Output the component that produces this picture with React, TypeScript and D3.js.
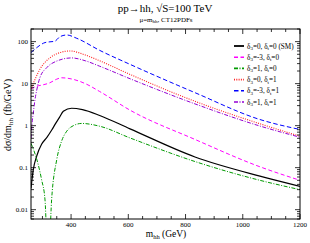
import React from 'react';
import * as d3 from 'd3';

// m_hh (GeV), dsigma/dm_hh (fb/GeV)
const smPts: [number, number][] = [
  [260, 0.032], [268, 0.09], [280, 0.19], [297, 0.36], [315, 0.52], [333, 0.8],
  [344, 1.07], [360, 1.6], [373, 2.2], [402, 2.6], [440, 2.4], [500, 1.75],
  [606, 0.84], [833, 0.18], [1060, 0.063], [1200, 0.036],
];
const m3Pts: [number, number][] = [
  [260, 7.5], [280, 8.7], [300, 9.3], [326, 10.5], [350, 12.8], [367, 13.8],
  [400, 13], [450, 10], [500, 6.5], [606, 2.34], [833, 0.47],
  [1060, 0.105], [1200, 0.05],
];
const p1Pts: [number, number][] = [
  [260, 0.38], [285, 0.12], [297, 0.052], [309, 0.017], [320, 0.0004], [332, 0.017],
  [350, 0.156], [367, 0.43], [385, 0.74], [408, 1.0], [437, 1.13], [500, 0.97],
  [606, 0.51], [833, 0.14], [1060, 0.05], [1200, 0.03],
];
const t1Pts: [number, number][] = [
  [260, 7.6], [274, 12.6], [291, 22], [326, 41], [361, 55], [396, 60], [450, 48],
  [500, 35], [606, 16.6], [833, 3.8], [1060, 1.11], [1200, 0.56],
];
const m3t1Pts: [number, number][] = [
  [260, 55], [280, 72], [309, 95], [344, 103], [361, 131], [385, 144], [420, 120],
  [500, 62], [606, 28.8], [833, 6.1], [1060, 1.4], [1200, 0.81],
];
const p1t1Pts: [number, number][] = [
  [260, 0.5], [263, 1], [268, 2], [274, 4.2], [280, 7], [291, 13.8], [315, 24],
  [350, 34.5], [402, 41], [450, 35], [500, 26], [606, 13.1],
  [833, 3.3], [1060, 0.98], [1200, 0.53],
];

const delta3 = ['0', '-3', '1', '0', '-3', '1'];
const deltaT = ['0', '0', '0', '1', '1', '1'];
const xTickVals = [400, 600, 800, 1000, 1200];
const yTickVals = [0.01, 0.1, 1, 10, 100];

const series = [
  { pts: smPts, color: '#000000', dash: '', w: 1.2, note: ' (SM)' },
  { pts: m3Pts, color: '#ff00ff', dash: '4,2.5', w: 1, note: '' },
  { pts: p1Pts, color: '#009a00', dash: '4,1.5,1,1.5', w: 1, note: '' },
  { pts: t1Pts, color: '#ff2020', dash: '1,1.3', w: 1.1, note: '' },
  { pts: m3t1Pts, color: '#0000ff', dash: '4.5,2.5', w: 1, note: '' },
  { pts: p1t1Pts, color: '#9400d3', dash: '4,1.5,1,1.5', w: 1, note: '' },
];

const W = 310;
const H = 243;
const margin = { top: 29, right: 10, bottom: 24, left: 31 };
const font = '"Liberation Serif", "Times New Roman", serif';

const App = () => {
  const x = d3.scaleLinear().domain([260, 1200]).range([margin.left, W - margin.right]);
  const y = d3.scaleLog().domain([0.006, 200]).range([H - margin.bottom, margin.top]);
  const [x0, x1] = x.range();
  const [y0, y1] = y.range();

  const line = d3
    .line<[number, number]>()
    .x((d) => x(d[0]))
    .y((d) => y(d[1]))
    .curve(d3.curveMonotoneX);

  const xMinor = d3.range(300, 1201, 50).filter((v) => !xTickVals.includes(v));
  const yMinor: number[] = [];
  [0.001, 0.01, 0.1, 1, 10, 100].forEach((dec) => {
    for (let k = 2; k <= 9; k++) {
      const v = dec * k;
      if (v >= 0.006 && v <= 200) yMinor.push(v);
    }
  });

  const legX = 234;
  const legY0 = 46;
  const legDy = 11.2;

  return (
    <svg width={W} height={H} style={{ position: 'absolute', left: 0, top: 0 }} fontFamily={font}>
      <rect width={W} height={H} fill="white" />
      <defs>
        <clipPath id="plotclip">
          <rect x={x0} y={y1} width={x1 - x0} height={y0 - y1} />
        </clipPath>
      </defs>

      <g clipPath="url(#plotclip)">
        {series.map((s, i) => (
          <path
            key={i}
            d={line(s.pts) || ''}
            fill="none"
            stroke={s.color}
            strokeWidth={s.w}
            strokeDasharray={s.dash}
          />
        ))}
      </g>

      {/* ticks, inward and mirrored */}
      <g stroke="black" strokeWidth={0.8}>
        {xTickVals.map((v) => (
          <g key={'xM' + v}>
            <line x1={x(v)} x2={x(v)} y1={y0} y2={y0 - 5} />
            <line x1={x(v)} x2={x(v)} y1={y1} y2={y1 + 5} />
          </g>
        ))}
        {xMinor.map((v) => (
          <g key={'xm' + v}>
            <line x1={x(v)} x2={x(v)} y1={y0} y2={y0 - 3} />
            <line x1={x(v)} x2={x(v)} y1={y1} y2={y1 + 3} />
          </g>
        ))}
        {yTickVals.map((v) => (
          <g key={'yM' + v}>
            <line x1={x0} x2={x0 + 5} y1={y(v)} y2={y(v)} />
            <line x1={x1} x2={x1 - 5} y1={y(v)} y2={y(v)} />
          </g>
        ))}
        {yMinor.map((v) => (
          <g key={'ym' + v}>
            <line x1={x0} x2={x0 + 3} y1={y(v)} y2={y(v)} />
            <line x1={x1} x2={x1 - 3} y1={y(v)} y2={y(v)} />
          </g>
        ))}
      </g>

      <rect x={x0} y={y1} width={x1 - x0} height={y0 - y1} fill="none" stroke="black" strokeWidth={1} />

      {xTickVals.map((v) => (
        <text key={'xl' + v} x={x(v)} y={y0 + 8} fontSize={7} textAnchor="middle">
          {v}
        </text>
      ))}
      {yTickVals.map((v) => (
        <text key={'yl' + v} x={x0 - 3} y={y(v) + 2.4} fontSize={7} textAnchor="end">
          {String(v)}
        </text>
      ))}

      {/* titles */}
      <text x={165} y={11.5} fontSize={11} textAnchor="middle">
        pp→hh, √S=100 TeV
      </text>
      <text x={166} y={21.5} fontSize={7} textAnchor="middle">
        μ=m<tspan dy={1.5} fontSize={5}>hh</tspan>
        <tspan dy={-1.5}>, CT12PDFs</tspan>
      </text>
      <text x={166} y={237} fontSize={9.5} textAnchor="middle">
        m<tspan dy={2} fontSize={6.5}>hh</tspan>
        <tspan dy={-2}> (GeV)</tspan>
      </text>
      <text transform={`translate(11,${115}) rotate(-90)`} fontSize={10} textAnchor="middle">
        dσ/dm<tspan dy={2} fontSize={7}>hh</tspan>
        <tspan dy={-2}> (fb/GeV)</tspan>
      </text>

      {/* legend */}
      {series.map((s, i) => {
        const ly = legY0 + i * legDy;
        return (
          <g key={'lg' + i}>
            <line
              x1={legX}
              x2={legX + 10}
              y1={ly}
              y2={ly}
              stroke={s.color}
              strokeWidth={s.w + 0.6}
              strokeDasharray={s.dash}
            />
            <text x={legX + 13} y={ly + 2.5} fontSize={7.2}>
              δ<tspan dy={1.5} fontSize={5}>3</tspan>
              <tspan dy={-1.5}>={delta3[i]}, δ</tspan>
              <tspan dy={1.5} fontSize={5}>t</tspan>
              <tspan dy={-1.5}>={deltaT[i]}{s.note}</tspan>
            </text>
          </g>
        );
      })}
    </svg>
  );
};

export default App;
